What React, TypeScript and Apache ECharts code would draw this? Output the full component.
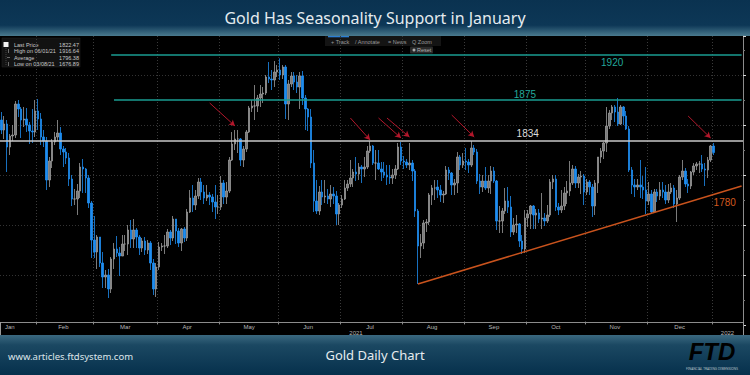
import React, { useEffect, useRef } from 'react';
import * as echarts from 'echarts';

// ---------- data ----------
const monthNames = ['Jan', 'Feb', 'Mar', 'Apr', 'May', 'Jun', 'Jul', 'Aug', 'Sep', 'Oct', 'Nov', 'Dec'];

// [open, close, low, high]
const jan21 = [
  [1855, 1845, 1841, 1863], [1845, 1851, 1836, 1859], [1851, 1828, 1803, 1855], [1828, 1839, 1820, 1841],
  [1839, 1840, 1834, 1850], [1840, 1871, 1837, 1874], [1871, 1866, 1858, 1875], [1866, 1855, 1837, 1868],
  [1855, 1856, 1848, 1868], [1856, 1850, 1843, 1867], [1850, 1844, 1831, 1853], [1844, 1843, 1832, 1866],
  [1843, 1864, 1838, 1875],
];
const feb21 = [
  [1864, 1856, 1845, 1876], [1856, 1838, 1830, 1862], [1838, 1834, 1828, 1845], [1834, 1795, 1785, 1838],
  [1795, 1814, 1788, 1818], [1814, 1833, 1807, 1836], [1833, 1838, 1830, 1843], [1838, 1842, 1834, 1855],
  [1842, 1826, 1820, 1848], [1826, 1823, 1808, 1829], [1823, 1817, 1811, 1827], [1817, 1796, 1789, 1822],
  [1796, 1776, 1769, 1800], [1776, 1776, 1770, 1786], [1776, 1784, 1760, 1791], [1784, 1808, 1777, 1812],
  [1808, 1806, 1782, 1816], [1806, 1797, 1782, 1807], [1797, 1772, 1767, 1800], [1772, 1735, 1717, 1774],
];
const mar21 = [
  [1735, 1723, 1717, 1759], [1723, 1738, 1706, 1740], [1738, 1712, 1708, 1738], [1712, 1698, 1687, 1723],
  [1698, 1700, 1687, 1705], [1700, 1686, 1677, 1706], [1686, 1716, 1682, 1718], [1716, 1726, 1706, 1732],
  [1726, 1722, 1718, 1739], [1722, 1719, 1699, 1728], [1719, 1731, 1719, 1740], [1731, 1731, 1724, 1740],
  [1731, 1745, 1720, 1750], [1745, 1736, 1727, 1755], [1736, 1745, 1727, 1756], [1745, 1738, 1727, 1747],
  [1738, 1727, 1720, 1740], [1727, 1734, 1723, 1737], [1734, 1725, 1720, 1738], [1725, 1732, 1721, 1735],
  [1732, 1712, 1705, 1734], [1712, 1686, 1680, 1716], [1686, 1708, 1678, 1712],
];
const apr21 = [
  [1708, 1728, 1705, 1733], [1728, 1729, 1724, 1732], [1729, 1729, 1721, 1740], [1729, 1743, 1727, 1746],
  [1743, 1737, 1730, 1745], [1737, 1756, 1734, 1759], [1756, 1744, 1731, 1756], [1744, 1732, 1728, 1747],
  [1732, 1746, 1724, 1747], [1746, 1737, 1733, 1748], [1737, 1763, 1734, 1766], [1763, 1777, 1762, 1785],
  [1777, 1770, 1763, 1790], [1770, 1779, 1765, 1785], [1779, 1793, 1776, 1797], [1793, 1783, 1775, 1797],
  [1783, 1777, 1771, 1790], [1777, 1780, 1774, 1790], [1780, 1778, 1770, 1783], [1778, 1773, 1763, 1781],
  [1773, 1768, 1756, 1790], [1768, 1768, 1761, 1780],
];
const may21 = [
  [1768, 1792, 1765, 1799], [1792, 1778, 1771, 1795], [1778, 1784, 1771, 1793], [1784, 1815, 1782, 1818],
  [1815, 1831, 1814, 1843], [1831, 1836, 1825, 1845], [1836, 1836, 1822, 1845], [1836, 1815, 1809, 1837],
  [1815, 1826, 1808, 1829], [1826, 1843, 1823, 1845], [1843, 1867, 1842, 1869], [1867, 1869, 1863, 1875],
  [1869, 1869, 1855, 1890], [1869, 1877, 1863, 1880], [1877, 1881, 1868, 1890], [1881, 1882, 1872, 1888],
  [1882, 1898, 1880, 1900], [1898, 1896, 1892, 1913], [1896, 1895, 1885, 1905], [1895, 1903, 1888, 1914],
  [1903, 1905, 1898, 1910],
];
const jun21 = [
  [1905, 1900, 1895, 1916.64], [1900, 1908, 1896, 1910], [1908, 1871, 1856, 1910], [1871, 1891, 1855, 1895],
  [1891, 1899, 1888, 1903], [1899, 1893, 1885, 1903], [1893, 1888, 1882, 1900], [1888, 1899, 1866, 1903],
  [1899, 1877, 1870, 1904], [1877, 1866, 1845, 1880], [1866, 1858, 1844, 1867], [1858, 1812, 1807, 1866],
  [1812, 1774, 1763, 1825], [1774, 1764, 1761, 1795], [1764, 1783, 1760, 1789], [1783, 1778, 1770, 1795],
  [1778, 1779, 1772, 1795], [1779, 1776, 1771, 1786], [1776, 1781, 1768, 1790], [1781, 1779, 1771, 1788],
  [1779, 1761, 1750, 1784], [1761, 1770, 1750, 1772],
];
const jul21 = [
  [1770, 1776, 1767, 1780], [1776, 1787, 1775, 1795], [1787, 1791, 1784, 1795], [1791, 1797, 1788, 1815],
  [1797, 1803, 1788, 1806], [1803, 1801, 1794, 1818], [1801, 1808, 1795, 1812], [1808, 1806, 1792, 1810],
  [1806, 1808, 1798, 1818], [1808, 1824, 1806, 1829], [1824, 1829, 1822, 1834], [1829, 1812, 1810, 1830],
  [1812, 1812, 1795, 1825], [1812, 1806, 1805, 1825], [1806, 1803, 1794, 1813], [1803, 1800, 1797, 1813],
  [1800, 1798, 1790, 1810], [1798, 1797, 1791, 1810], [1797, 1800, 1791, 1806], [1800, 1806, 1796, 1810],
  [1806, 1828, 1805, 1832], [1828, 1814, 1810, 1833],
];
const aug21 = [
  [1814, 1813, 1806, 1819], [1813, 1810, 1807, 1816], [1810, 1812, 1805, 1832], [1812, 1804, 1794, 1815],
  [1804, 1764, 1758, 1806], [1764, 1729, 1691, 1766], [1729, 1732, 1717, 1741], [1732, 1752, 1726, 1755],
  [1752, 1753, 1743, 1756], [1753, 1780, 1750, 1782], [1780, 1787, 1770, 1790], [1787, 1787, 1775, 1795],
  [1788, 1785, 1777, 1795], [1785, 1780, 1773, 1790], [1780, 1781, 1772, 1784], [1781, 1805, 1780, 1809],
  [1805, 1802, 1795, 1808], [1802, 1790, 1780, 1803], [1790, 1792, 1780, 1796], [1792, 1818, 1782, 1823],
  [1818, 1810, 1805, 1820], [1810, 1814, 1807, 1822],
];
const sep21 = [
  [1814, 1813, 1805, 1827], [1813, 1810, 1802, 1816], [1810, 1827, 1808, 1834], [1827, 1823, 1820, 1830],
  [1823, 1794, 1791, 1826], [1794, 1788, 1781, 1801], [1788, 1794, 1783, 1800], [1794, 1787, 1785, 1808],
  [1787, 1794, 1782, 1800], [1794, 1804, 1781, 1809], [1804, 1794, 1792, 1808], [1794, 1754, 1745, 1795],
  [1754, 1754, 1742, 1769], [1754, 1764, 1742, 1767], [1764, 1774, 1761, 1787], [1774, 1768, 1762, 1788],
  [1768, 1743, 1738, 1779], [1743, 1750, 1740, 1757], [1750, 1751, 1742, 1760], [1751, 1734, 1728, 1752],
  [1734, 1726, 1721, 1740], [1726, 1757, 1722, 1765],
];
const oct21 = [
  [1757, 1761, 1748, 1765], [1761, 1769, 1746, 1770], [1769, 1760, 1746, 1770], [1760, 1762, 1746, 1766],
  [1762, 1756, 1752, 1766], [1756, 1757, 1746, 1782], [1757, 1754, 1749, 1762], [1754, 1760, 1752, 1770],
  [1760, 1793, 1758, 1796], [1793, 1796, 1786, 1800], [1796, 1768, 1764, 1800], [1768, 1765, 1760, 1772],
  [1765, 1769, 1762, 1785], [1769, 1782, 1765, 1788], [1782, 1784, 1771, 1794], [1784, 1792, 1779, 1814],
  [1792, 1806, 1790, 1810], [1806, 1792, 1787, 1809], [1792, 1798, 1787, 1801], [1798, 1799, 1781, 1804],
  [1799, 1783, 1770, 1801],
];
const nov21 = [
  [1783, 1793, 1780, 1796], [1793, 1788, 1780, 1795], [1788, 1769, 1758, 1791], [1769, 1792, 1760, 1795],
  [1792, 1818, 1782, 1818], [1818, 1824, 1812, 1827], [1824, 1832, 1816, 1833], [1832, 1849, 1823, 1868],
  [1849, 1862, 1846, 1865], [1862, 1868, 1855, 1870], [1868, 1863, 1853, 1870], [1863, 1851, 1849, 1877],
  [1851, 1868, 1850, 1870], [1868, 1859, 1850, 1869], [1859, 1846, 1845, 1864], [1846, 1805, 1803, 1849],
  [1805, 1790, 1781, 1808], [1790, 1788, 1778, 1796], [1788, 1790, 1785, 1796], [1790, 1788, 1777, 1815],
  [1788, 1785, 1776, 1799], [1785, 1774, 1761, 1808],
];
const dec21 = [
  [1774, 1781, 1770, 1793], [1781, 1763, 1762, 1785], [1763, 1783, 1762, 1786], [1783, 1779, 1773, 1786],
  [1779, 1785, 1775, 1793], [1785, 1783, 1777, 1793], [1783, 1775, 1771, 1790], [1775, 1783, 1772, 1791],
  [1783, 1787, 1781, 1792], [1787, 1771, 1767, 1790], [1771, 1777, 1753, 1785], [1777, 1798, 1775, 1800],
  [1798, 1804, 1795, 1815], [1804, 1791, 1788, 1807], [1791, 1789, 1782, 1796], [1789, 1803, 1786, 1804],
  [1803, 1809, 1800, 1812], [1809, 1811, 1805, 1813], [1811, 1811, 1802, 1814], [1811, 1806, 1803, 1820],
  [1806, 1805, 1789, 1812], [1805, 1815, 1797, 1818], [1815, 1829, 1813, 1830],
];
const jan22 = [[1829, 1822.47, 1820, 1832]];

const candles = [
  ...jan21, ...feb21, ...mar21, ...apr21, ...may21, ...jun21,
  ...jul21, ...aug21, ...sep21, ...oct21, ...nov21, ...dec21, ...jan22,
];

// horizontal levels and their labels
const levelHigh = { value: 1920, from: '2021-03-09', label: '1920', labelAt: ['2021-11-12', 1913] };
const levelMid = { value: 1875, from: '2021-03-10', label: '1875', labelAt: ['2021-09-30', 1881] };
const levelPivot = { value: 1834, label: '1834', labelAt: ['2021-10-01', 1842] };
const trendLine = { from: ['2021-08-09', 1691], toValue: 1789, label: '1780', labelAt: ['2022-01-07', 1773] };

// red arrows: [fromDate, fromValue, toDate, toValue]
const arrows: [string, number, string, number][] = [
  ['2021-04-27', 1872, '2021-05-10', 1849],
  ['2021-07-06', 1857, '2021-07-15', 1835],
  ['2021-07-20', 1857, '2021-07-30', 1837],
  ['2021-07-23', 1857, '2021-08-04', 1838],
  ['2021-08-25', 1860, '2021-09-06', 1838],
  ['2021-12-21', 1859, '2021-12-31', 1837],
];

const legendRows = [
  ['Last Price', '1822.47'],
  ['High on 06/01/21', '1916.64'],
  ['Average', '1796.38'],
  ['Low on 03/08/21', '1676.89'],
];

function buildDates(): string[] {
  const out: string[] = [];
  const d = new Date(Date.UTC(2021, 0, 13));
  const end = Date.UTC(2022, 0, 17);
  while (d.getTime() <= end) {
    const wd = d.getUTCDay();
    if (wd !== 0 && wd !== 6) out.push(d.toISOString().slice(0, 10));
    d.setUTCDate(d.getUTCDate() + 1);
  }
  return out;
}

export default function App() {
  const ref = useRef<HTMLDivElement>(null);

  useEffect(() => {
    document.body.style.margin = '0';
    if (!ref.current) return;
    const chart = echarts.init(ref.current, undefined, { renderer: 'svg' });

    const cats = buildDates();
    const last = cats[cats.length - 1];

    // month boundaries and label positions
    const monthStart = new Set<number>();
    const monthLabel = new Map<number, string>();
    const groups: { key: string; start: number; end: number }[] = [];
    cats.forEach((c, i) => {
      const key = c.slice(0, 7);
      if (!groups.length || groups[groups.length - 1].key !== key) {
        groups.push({ key, start: i, end: i });
        if (i > 0) monthStart.add(i);
      } else groups[groups.length - 1].end = i;
    });
    groups.forEach((g) => {
      if (!g.key.startsWith('2021')) return;
      const count = g.end - g.start + 1;
      const idx = g.start === 0 ? Math.floor(count / 4) : g.start + Math.floor((count - 1) / 2);
      monthLabel.set(idx, monthNames[parseInt(g.key.slice(5, 7), 10) - 1]);
    });
    // year labels at the middle of each year's visible span
    const yearStartIdx = cats.findIndex((c) => c.startsWith('2022'));
    const yearLabel = new Map<number, string>();
    yearLabel.set(Math.floor((0 + yearStartIdx - 1) / 2), '2021');
    yearLabel.set(Math.floor((yearStartIdx + cats.length - 1) / 2), '2022');

    const teal = '#1a9c92';
    const arrowColor = '#b3172b';
    const orange = '#c9531d';

    const markLines: any[] = [
      { yAxis: levelPivot.value, lineStyle: { color: '#c8c8c8', width: 1.5, type: 'solid' } },
      [
        { coord: [levelHigh.from, levelHigh.value], lineStyle: { color: teal, width: 1.5, type: 'solid' } },
        { coord: [last, levelHigh.value] },
      ],
      [
        { coord: [levelMid.from, levelMid.value], lineStyle: { color: teal, width: 1.5, type: 'solid' } },
        { coord: [last, levelMid.value] },
      ],
      [
        { coord: trendLine.from, lineStyle: { color: orange, width: 1.5, type: 'solid' } },
        { coord: [last, trendLine.toValue] },
      ],
      ...arrows.map((a) => [
        { coord: [a[0], a[1]], symbol: 'none', lineStyle: { color: arrowColor, width: 1, type: 'solid' } },
        { coord: [a[2], a[3]], symbol: 'arrow', symbolSize: [5, 6] },
      ]),
    ];

    const mkLabel = (coord: any[], text: string, color: string) => ({
      coord,
      symbol: 'circle',
      symbolSize: 1,
      itemStyle: { color: 'rgba(0,0,0,0)' },
      label: {
        show: true,
        position: 'inside',
        formatter: text,
        color,
        fontSize: 10,
        fontFamily: 'Liberation Sans',
      },
    });

    const font = 'Liberation Sans';
    const legendGraphics: any[] = [];
    legendRows.forEach((r, i) => {
      const y = 44.5 + i * 6.5;
      legendGraphics.push({
        type: 'text', x: 14, y,
        style: { text: r[0], fill: '#c8c8c8', fontSize: 5.5, fontFamily: font, align: 'left', verticalAlign: 'middle', textAlign: 'left', textVerticalAlign: 'middle' },
      });
      legendGraphics.push({
        type: 'text', x: 79, y,
        style: { text: r[1], fill: '#c8c8c8', fontSize: 5.5, fontFamily: font, align: 'right', verticalAlign: 'middle', textAlign: 'right', textVerticalAlign: 'middle' },
      });
    });

    const txt = (x: number, y: number, text: string, size: number, fill: string, align = 'left', extra: any = {}) => ({
      type: 'text', x, y,
      style: { text, fill, fontSize: size, fontFamily: 'Noto Sans', align, verticalAlign: 'middle', textAlign: align, textVerticalAlign: 'middle', ...extra },
    });

    chart.setOption({
      animation: false,
      backgroundColor: '#000000',
      grid: { left: 0, right: 7, top: 36, bottom: 50 },
      xAxis: [
        {
          type: 'category',
          data: cats,
          boundaryGap: true,
          offset: -3,
          axisLine: { lineStyle: { color: '#8c8c8c', width: 1 } },
          axisTick: { show: true, length: 2, interval: (i: number) => monthStart.has(i), lineStyle: { color: '#8c8c8c' } },
          axisLabel: {
            interval: (i: number) => monthLabel.has(i),
            formatter: (_v: string, i: number) => monthLabel.get(i) || '',
            color: '#b8b8b8', fontSize: 6, margin: 2, fontFamily: font,
          },
          splitLine: { show: true, interval: (i: number) => monthStart.has(i), lineStyle: { color: '#3a3a3a', type: [1, 2], width: 1 } },
        },
        {
          type: 'category',
          data: cats,
          boundaryGap: true,
          position: 'bottom',
          offset: -3,
          axisLine: { show: false },
          axisTick: { show: true, length: 13, interval: (i: number) => i === yearStartIdx, lineStyle: { color: '#9a9a9a' } },
          axisLabel: {
            interval: (i: number) => yearLabel.has(i),
            formatter: (_v: string, i: number) => yearLabel.get(i) || '',
            color: '#b8b8b8', fontSize: 6, margin: 8, fontFamily: font,
          },
          splitLine: { show: false },
        },
      ],
      yAxis: {
        type: 'value',
        position: 'right',
        min: 1650,
        max: 1939,
        interval: 50,
        axisLine: { show: true, lineStyle: { color: '#8c8c8c', width: 1 } },
        axisTick: { show: true, length: 3, lineStyle: { color: '#d8d8d8' } },
        minorTick: { show: true, splitNumber: 2, length: 2, lineStyle: { color: '#777' } },
        axisLabel: { show: false },
        splitLine: { show: true, showMinLine: false, showMaxLine: false, lineStyle: { color: '#333333', type: [1, 2], width: 1 } },
      },
      series: [
        {
          type: 'candlestick',
          xAxisIndex: 0,
          data: candles,
          barWidth: 2,
          itemStyle: {
            color: '#7a7a7a',
            color0: '#1e8df0',
            borderColor: '#9a9a9a',
            borderColor0: '#1e8df0',
            borderWidth: 0.8,
          },
          markLine: {
            silent: true,
            symbol: ['none', 'none'],
            label: { show: false },
            data: markLines,
          },
          markPoint: {
            silent: true,
            data: [
              mkLabel(levelHigh.labelAt, levelHigh.label, '#22a89c'),
              mkLabel(levelMid.labelAt, levelMid.label, '#22a89c'),
              mkLabel(levelPivot.labelAt, levelPivot.label, '#dcdcdc'),
              mkLabel(trendLine.labelAt, trendLine.label, '#d2591f'),
            ],
          },
        },
      ],
      graphic: [
        // header band
        {
          type: 'rect', shape: { x: 0, y: 0, width: 750, height: 36 }, silent: true,
          style: {
            fill: new echarts.graphic.LinearGradient(0, 0, 0, 1, [
              { offset: 0, color: '#0a3250' },
              { offset: 0.7, color: '#0d3756' },
              { offset: 1, color: '#4a7a8e' },
            ]),
          },
        },
        txt(375, 18, 'Gold Has Seasonality Support in January', 16, '#e4ebef', 'center'),
        // footer band
        {
          type: 'rect', shape: { x: 0, y: 335, width: 750, height: 40 }, silent: true,
          style: {
            fill: new echarts.graphic.LinearGradient(0, 0, 0, 1, [
              { offset: 0, color: '#3b6980' },
              { offset: 0.25, color: '#1b4862' },
              { offset: 1, color: '#06304c' },
            ]),
          },
        },
        txt(8, 356, 'www.articles.ftdsystem.com', 9.5, '#dfe6ea', 'left'),
        txt(375, 355, 'Gold Daily Chart', 13, '#e6ecef', 'center'),
        {
          type: 'text', x: 712, y: 351,
          style: {
            text: 'FTD', fontSize: 24, fontWeight: 'bold', fontStyle: 'italic', fontFamily: 'Liberation Sans',
            fill: new echarts.graphic.LinearGradient(0, 0, 0, 1, [
              { offset: 0, color: '#f2f2f2' },
              { offset: 0.5, color: '#a9b0b5' },
              { offset: 1, color: '#e0e0e0' },
            ]),
            align: 'center', verticalAlign: 'middle', textAlign: 'center', textVerticalAlign: 'middle',
          },
        },
        txt(712, 368.5, 'FINANCIAL TRADING DIMENSIONS', 3.2, '#b8c2c8', 'center'),
        // legend box
        { type: 'rect', shape: { x: 2, y: 38, width: 78, height: 29 }, style: { fill: '#121212', stroke: '#262626', lineWidth: 0.5 }, silent: true },
        { type: 'rect', shape: { x: 3.5, y: 42, width: 5, height: 5 }, style: { fill: '#f2f2f2' }, silent: true },
        { type: 'line', shape: { x1: 6, y1: 48, x2: 6, y2: 66 }, style: { stroke: '#666', lineWidth: 0.6, lineDash: [1, 1] }, silent: true },
        { type: 'line', shape: { x1: 8.5, y1: 49, x2: 8.5, y2: 53 }, style: { stroke: '#aaa', lineWidth: 0.6 }, silent: true },
        { type: 'line', shape: { x1: 7, y1: 57.5, x2: 10, y2: 57.5 }, style: { stroke: '#aaa', lineWidth: 0.6 }, silent: true },
        { type: 'line', shape: { x1: 8.5, y1: 62, x2: 8.5, y2: 66 }, style: { stroke: '#aaa', lineWidth: 0.6 }, silent: true },
        ...legendGraphics,
        // toolbar
        { type: 'rect', shape: { x: 325, y: 36, width: 116, height: 10 }, style: { fill: '#141414' }, silent: true },
        { type: 'rect', shape: { x: 328, y: 36, width: 21, height: 1.3 }, style: { fill: '#2b7fd6' }, silent: true },
        { type: 'text', x: 331, y: 41.5, style: { text: '+ Track', fill: '#9a9a9a', fontSize: 5.5, fontFamily: font, verticalAlign: 'middle', textVerticalAlign: 'middle' } },
        { type: 'text', x: 355, y: 41.5, style: { text: '/ Annotate', fill: '#9a9a9a', fontSize: 5.5, fontFamily: font, verticalAlign: 'middle', textVerticalAlign: 'middle' } },
        { type: 'text', x: 388, y: 41.5, style: { text: '= News', fill: '#9a9a9a', fontSize: 5.5, fontFamily: font, verticalAlign: 'middle', textVerticalAlign: 'middle' } },
        { type: 'text', x: 412, y: 41.5, style: { text: 'Q Zoom', fill: '#9a9a9a', fontSize: 5.5, fontFamily: font, verticalAlign: 'middle', textVerticalAlign: 'middle' } },
        { type: 'rect', shape: { x: 410, y: 46.5, width: 23, height: 7, r: 1 }, style: { fill: '#2a2a2a' }, silent: true },
        { type: 'circle', shape: { cx: 414, cy: 50, r: 1.5 }, style: { fill: '#aaa' }, silent: true },
        { type: 'text', x: 417, y: 50, style: { text: 'Reset', fill: '#b0b0b0', fontSize: 5.5, fontFamily: font, verticalAlign: 'middle', textVerticalAlign: 'middle' } },
      ],
    });

    return () => chart.dispose();
  }, []);

  return <div ref={ref} style={{ width: 750, height: 375, background: '#000' }} />;
}
